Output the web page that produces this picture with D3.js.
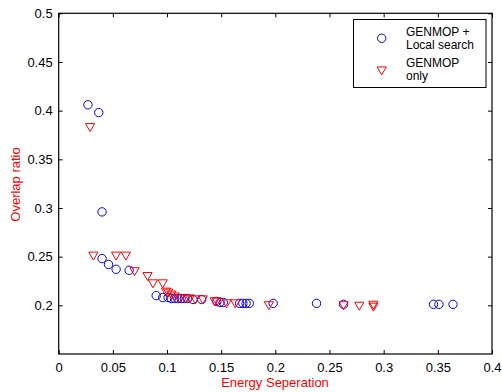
<!DOCTYPE html>
<html>
<head>
<meta charset="utf-8">
<script src="https://cdn.jsdelivr.net/npm/d3@7"></script>
<style>
  body { margin: 0; background: #fff; }
  svg { display: block; font-family: "Liberation Sans", Arial, sans-serif; }
</style>
</head>
<body>
<svg width="502" height="392"></svg>
<script>
let width = 502, height = 392;

// GENMOP + Local search (circles): [energy separation, overlap ratio]
const localSearch = [
  [0.027, 0.406], [0.037, 0.398], [0.040, 0.296], [0.040, 0.248], [0.046, 0.242],
  [0.053, 0.237], [0.065, 0.236], [0.090, 0.210], [0.096, 0.208], [0.101, 0.208],
  [0.104, 0.207], [0.107, 0.207], [0.110, 0.207], [0.113, 0.207], [0.116, 0.207],
  [0.119, 0.207], [0.124, 0.206], [0.132, 0.206], [0.146, 0.204], [0.149, 0.203],
  [0.152, 0.203], [0.167, 0.202], [0.170, 0.202], [0.173, 0.202], [0.176, 0.202],
  [0.198, 0.202], [0.238, 0.202], [0.263, 0.201], [0.346, 0.201], [0.351, 0.201],
  [0.364, 0.201]
];

// GENMOP only (triangles)
const genmopOnly = [
  [0.029, 0.383], [0.032, 0.251], [0.053, 0.251], [0.062, 0.251], [0.070, 0.235],
  [0.082, 0.230], [0.087, 0.2225], [0.096, 0.2225], [0.099, 0.214], [0.101, 0.213],
  [0.104, 0.211], [0.107, 0.209], [0.112, 0.207], [0.117, 0.207], [0.121, 0.207],
  [0.126, 0.206], [0.133, 0.206], [0.144, 0.204], [0.146, 0.204], [0.155, 0.202],
  [0.163, 0.202], [0.194, 0.200], [0.263, 0.200], [0.2775, 0.1995], [0.2905, 0.1985],
  [0.2905, 0.2005]
];

const xTicks = [0, 0.05, 0.1, 0.15, 0.2, 0.25, 0.3, 0.35, 0.4];
const yTicks = [0.2, 0.25, 0.3, 0.35, 0.4, 0.45, 0.5];
const legendLabels = [["GENMOP +", "Local search"], ["GENMOP", "only"]];

let svg = d3.select("svg");

const plotLeft = 58.7, plotRight = 492, plotTop = 13.3, plotBottom = 354;
const fontSize = 13;

const x = d3.scaleLinear().domain([0, 0.4]).range([plotLeft, plotRight]);
const y = d3.scaleLinear().domain([0.15, 0.5]).range([plotBottom, plotTop]);

// axes (ticks inside, mirrored on top and right)
const fmt = d => String(d);
svg.append("g")
  .attr("transform", `translate(0,${plotBottom})`)
  .call(d3.axisBottom(x).tickValues(xTicks).tickFormat(fmt).tickSizeInner(-4).tickSizeOuter(0).tickPadding(9));
svg.append("g")
  .attr("transform", `translate(0,${plotTop})`)
  .call(d3.axisTop(x).tickValues(xTicks).tickFormat("").tickSizeInner(-4).tickSizeOuter(0));
svg.append("g")
  .attr("transform", `translate(${plotLeft},0)`)
  .call(d3.axisLeft(y).tickValues(yTicks).tickFormat(fmt).tickSizeInner(-4).tickSizeOuter(0).tickPadding(6));
svg.append("g")
  .attr("transform", `translate(${plotRight},0)`)
  .call(d3.axisRight(y).tickValues(yTicks).tickFormat("").tickSizeInner(-4).tickSizeOuter(0));

svg.selectAll(".tick text")
  .attr("font-size", fontSize)
  .attr("font-family", "Liberation Sans, Arial, sans-serif")
  .attr("fill", "#000");
svg.selectAll(".domain").remove();
svg.selectAll(".tick line").attr("stroke", "#000");

// box
svg.append("rect")
  .attr("x", plotLeft).attr("y", plotTop)
  .attr("width", plotRight - plotLeft).attr("height", plotBottom - plotTop)
  .attr("fill", "none").attr("stroke", "#000").attr("stroke-width", 1.2);

// markers
const tri = (cx, cy) => `M${cx - 4.6},${cy - 3.6}L${cx + 4.6},${cy - 3.6}L${cx},${cy + 4.4}Z`;

svg.append("g").selectAll("circle")
  .data(localSearch)
  .enter()
  .append("circle")
  .attr("cx", d => x(d[0]))
  .attr("cy", d => y(d[1]))
  .attr("r", 4.2)
  .attr("fill", "none")
  .attr("stroke", "#0000ff")
  .attr("stroke-width", 1);

svg.append("g").selectAll("path")
  .data(genmopOnly)
  .enter()
  .append("path")
  .attr("d", d => tri(x(d[0]), y(d[1])))
  .attr("fill", "none")
  .attr("stroke", "#ff0000")
  .attr("stroke-width", 1);

// axis labels
svg.append("text")
  .attr("x", 275)
  .attr("y", 387)
  .attr("text-anchor", "middle")
  .attr("font-size", fontSize)
  .attr("fill", "#ff0000")
  .text("Energy Seperation");

svg.append("text")
  .attr("transform", `translate(19.5,184.5) rotate(-90)`)
  .attr("text-anchor", "middle")
  .attr("font-size", fontSize)
  .attr("fill", "#ff0000")
  .text("Overlap ratio");

// legend
const legend = svg.append("g");
legend.append("rect")
  .attr("x", 353.5).attr("y", 19.5)
  .attr("width", 132.5).attr("height", 68)
  .attr("fill", "#fff").attr("stroke", "#000").attr("stroke-width", 1);

legend.append("circle")
  .attr("cx", 381.7).attr("cy", 38.3).attr("r", 4.2)
  .attr("fill", "none").attr("stroke", "#0000ff");
legend.append("path")
  .attr("d", tri(381.7, 70.5))
  .attr("fill", "none").attr("stroke", "#ff0000");

legendLabels.forEach((lines, i) => {
  lines.forEach((t, j) => {
    legend.append("text")
      .attr("x", 406)
      .attr("y", 35.5 + i * 31 + j * 13.6)
      .attr("font-size", 12)
      .attr("fill", "#000")
      .text(t);
  });
});
</script>
</body>
</html>
